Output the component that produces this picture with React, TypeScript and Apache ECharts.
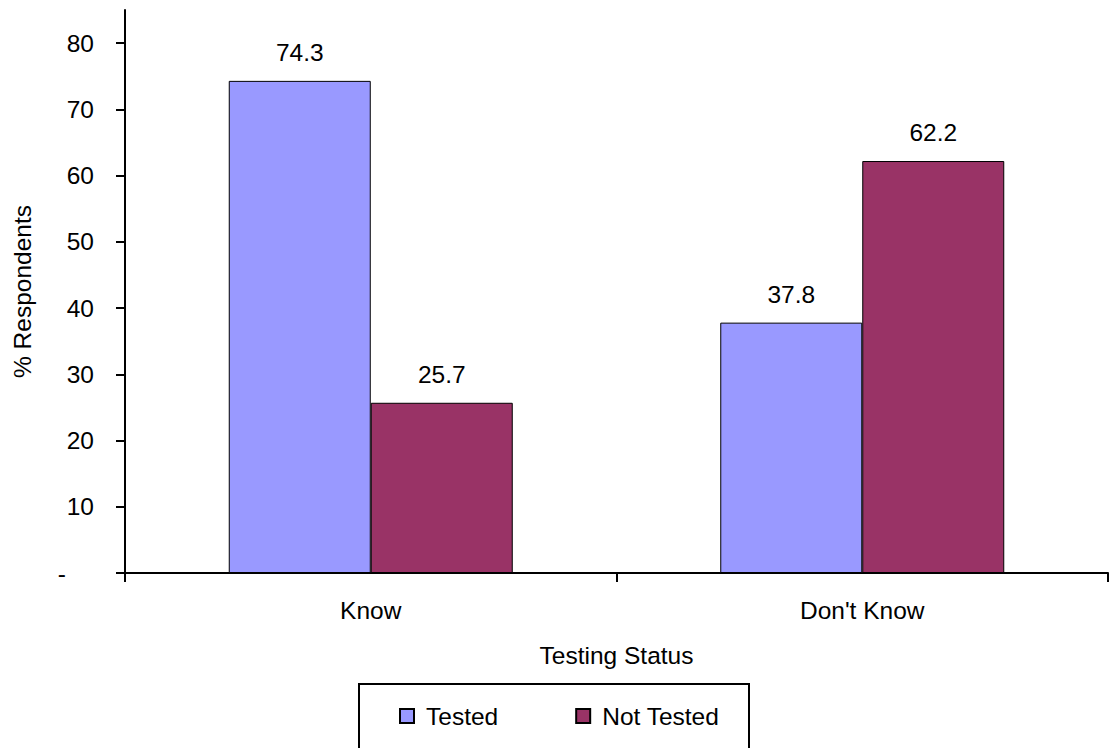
import React, { useEffect, useRef } from "react";
import * as echarts from "echarts";

const categories = ["Know", "Don't Know"];
const testedValues = [74.3, 37.8];
const notTestedValues = [25.7, 62.2];
const seriesNames = ["Tested", "Not Tested"];
const yTickValues = [0, 10, 20, 30, 40, 50, 60, 70, 80];
const xAxisTitle = "Testing Status";
const yAxisTitle = "% Respondents";

const FONT = "'Liberation Sans', Arial, sans-serif";
const FS = 24.5;

export default function App() {
  const ref = useRef<HTMLDivElement>(null);
  useEffect(() => {
    document.body.style.margin = "0";
    const chart = echarts.init(ref.current!, null, { renderer: "svg" });
    const labelCfg = {
      show: true,
      position: "top",
      distance: 16,
      color: "#000",
      fontFamily: FONT,
      fontSize: FS,
      formatter: (p: any) => Number(p.value).toFixed(1),
    };
    chart.setOption({
      animation: false,
      backgroundColor: "#fff",
      textStyle: { fontFamily: FONT },
      grid: { left: 125, right: 3, top: 10, bottom: 175, containLabel: false, outerBoundsMode: "none" },
      legend: {
        data: seriesNames,
        left: 399,
        top: 703,
        padding: 0,
        icon: "rect",
        itemWidth: 14,
        itemHeight: 14,
        itemGap: 77,
        textStyle: { fontFamily: FONT, fontSize: FS, color: "#000", padding: [0, 0, 0, 7], lineHeight: 26 },
      },
      xAxis: {
        type: "category",
        data: categories,
        name: xAxisTitle,
        nameLocation: "middle",
        nameGap: 70,
        nameTextStyle: { fontFamily: FONT, fontSize: FS, color: "#000" },
        axisLine: { lineStyle: { color: "#000", width: 2 } },
        axisTick: { show: true, length: 9, lineStyle: { color: "#000", width: 2 } },
        axisLabel: { color: "#000", fontFamily: FONT, fontSize: FS, margin: 25 },
      },
      yAxis: {
        type: "value",
        min: 0,
        max: 85,
        name: yAxisTitle,
        nameLocation: "middle",
        nameGap: 90,
        nameTextStyle: { fontFamily: FONT, fontSize: FS, color: "#000" },
        splitLine: { show: false },
        axisLine: { show: true, lineStyle: { color: "#000", width: 2 } },
        axisTick: { show: true, length: 9, customValues: yTickValues, lineStyle: { color: "#000", width: 2 } },
        axisLabel: {
          color: "#000",
          fontFamily: FONT,
          fontSize: FS,
          margin: 31,
          customValues: yTickValues,
          formatter: (v: number) => (v === 0 ? "{d|-}" : String(v)),
          rich: { d: { fontFamily: FONT, fontSize: FS, color: "#000", padding: [0, 28, 0, 0] } },
        },
      },
      series: [
        {
          name: seriesNames[0],
          type: "bar",
          data: testedValues,
          barWidth: 142,
          barGap: "0%",
          itemStyle: { color: "#9999FF", borderColor: "#000", borderWidth: 1 },
          label: labelCfg,
        },
        {
          name: seriesNames[1],
          type: "bar",
          data: notTestedValues,
          barWidth: 142,
          barGap: "0%",
          itemStyle: { color: "#993366", borderColor: "#000", borderWidth: 1 },
          label: labelCfg,
        },
      ],
      graphic: [
        {
          type: "rect",
          shape: { x: 359, y: 684, width: 390, height: 100 },
          style: { fill: "none", stroke: "#000", lineWidth: 2 },
          silent: true,
        },
      ],
    });
    return () => chart.dispose();
  }, []);
  return <div ref={ref} style={{ width: 1111, height: 748 }} />;
}
